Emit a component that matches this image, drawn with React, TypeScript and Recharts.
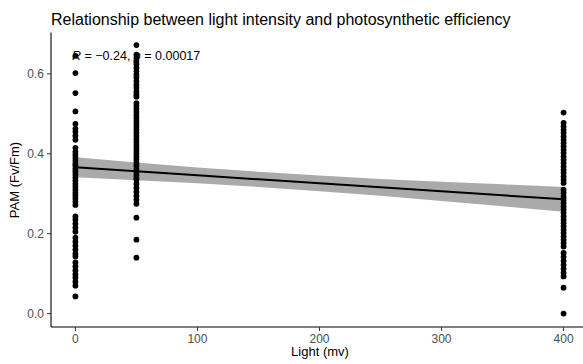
import { ComposedChart, Area, Line, Scatter, XAxis, YAxis } from "recharts"

// measured PAM values at each light level
const light0 = [
  0.645, 0.602, 0.552, 0.506, 0.475, 0.463, 0.455, 0.445, 0.435,
  0.415, 0.405, 0.398, 0.39, 0.383, 0.375, 0.37, 0.362, 0.355, 0.348, 0.34,
  0.333, 0.325, 0.318, 0.31, 0.302, 0.295, 0.288, 0.28, 0.272,
  0.243, 0.235, 0.225, 0.215, 0.205,
  0.19, 0.18, 0.17, 0.16, 0.15, 0.143,
  0.128, 0.118, 0.108, 0.098, 0.09, 0.08, 0.07, 0.043,
]
const light50 = [
  0.672, 0.648, 0.64, 0.632, 0.624, 0.615, 0.607, 0.598, 0.59, 0.582, 0.573,
  0.565, 0.556, 0.548, 0.543,
  0.527, 0.52, 0.512, 0.505, 0.497, 0.49, 0.482, 0.475, 0.467, 0.46, 0.452,
  0.445, 0.437, 0.43, 0.422, 0.415, 0.407, 0.4, 0.392, 0.385, 0.377, 0.37,
  0.362, 0.355, 0.347, 0.34, 0.335,
  0.325, 0.315, 0.305, 0.295, 0.285, 0.275,
  0.24, 0.185, 0.14,
]
const light400 = [
  0.503, 0.477, 0.468, 0.46, 0.452, 0.443, 0.435, 0.427, 0.418, 0.41, 0.402,
  0.393, 0.385, 0.377, 0.368, 0.36, 0.352, 0.343, 0.335, 0.327,
  0.31, 0.302, 0.293, 0.285, 0.277, 0.268, 0.26, 0.252, 0.243, 0.235, 0.227,
  0.218, 0.21, 0.202, 0.193, 0.185, 0.177, 0.168,
  0.152, 0.142, 0.132, 0.122, 0.112, 0.102, 0.093, 0.065, 0.0,
]

// fitted line and 95% band
const fitX = [0, 50, 100, 150, 200, 250, 300, 350, 400]
const fitY = [0.366, 0.356, 0.346, 0.336, 0.326, 0.316, 0.306, 0.296, 0.286]
const fitLow = [0.341, 0.334, 0.3265, 0.317, 0.3065, 0.295, 0.282, 0.2685, 0.255]
const fitHigh = [0.391, 0.378, 0.3655, 0.355, 0.3455, 0.337, 0.33, 0.3235, 0.317]

const xTicks = [0, 100, 200, 300, 400]
const yTicks = [0, 0.2, 0.4, 0.6]

const points = [
  ...light0.map((y) => ({ x: 0, y })),
  ...light50.map((y) => ({ x: 50, y })),
  ...light400.map((y) => ({ x: 400, y })),
]

const fit = fitX.map((x, i) => ({ x, y: fitY[i], band: [fitLow[i], fitHigh[i]] }))

const font = "'Liberation Sans', Arial, Helvetica, sans-serif"
const tickStyle = { fill: "#4d4d4d", fontSize: 12, fontFamily: font }

const Dot = (props: any) => <circle cx={props.cx} cy={props.cy} r={2.9} fill="#000" />

export default function App() {
  return (
    <div style={{ position: "fixed", left: 0, top: 0, width: 583, height: 364, overflow: "hidden", background: "#fff" }}>
      <ComposedChart width={588} height={364} data={fit} margin={{ top: 32.5, right: 0, bottom: 0, left: 0 }}>
        <XAxis
          type="number"
          dataKey="x"
          domain={[-20, 420]}
          ticks={xTicks}
          height={37}
          tickSize={4}
          tickMargin={3}
          tick={tickStyle}
          axisLine={{ stroke: "#000", strokeWidth: 1.1 }}
          tickLine={{ stroke: "#333" }}
          label={{
            content: () => (
              <text x={320} y={356} textAnchor="middle" fontSize={13} fontFamily={font} fill="#000">
                Light (mv)
              </text>
            ),
          }}
        />
        <YAxis
          type="number"
          domain={[-0.0335, 0.7035]}
          ticks={yTicks}
          width={51}
          tickSize={4}
          tickMargin={3}
          tick={tickStyle}
          tickFormatter={(v) => v.toFixed(1)}
          axisLine={{ stroke: "#000", strokeWidth: 1.1 }}
          tickLine={{ stroke: "#333" }}
          label={{
            content: () => (
              <text x={19} y={180} transform="rotate(-90 19 180)" textAnchor="middle" fontSize={13} fontFamily={font} fill="#000">
                PAM (Fv/Fm)
              </text>
            ),
          }}
        />
        <Area dataKey="band" stroke="none" fill="#aaaaaa" fillOpacity={1} isAnimationActive={false} />
        <Line dataKey="y" stroke="#000" strokeWidth={2} dot={false} isAnimationActive={false} />
        <Scatter data={points} dataKey="y" shape={Dot} isAnimationActive={false} />
      </ComposedChart>
      <svg width={583} height={364} style={{ position: "absolute", left: 0, top: 0, pointerEvents: "none" }}>
        <text x={51} y={25} fontSize={16} fontFamily={font} fill="#000">
          Relationship between light intensity and photosynthetic efficiency
        </text>
        <text x={72} y={60} fontSize={12.5} fontFamily={font} fill="#000">
          <tspan fontStyle="italic">R</tspan> = −0.24, <tspan fontStyle="italic">p</tspan> = 0.00017
        </text>
      </svg>
    </div>
  )
}
